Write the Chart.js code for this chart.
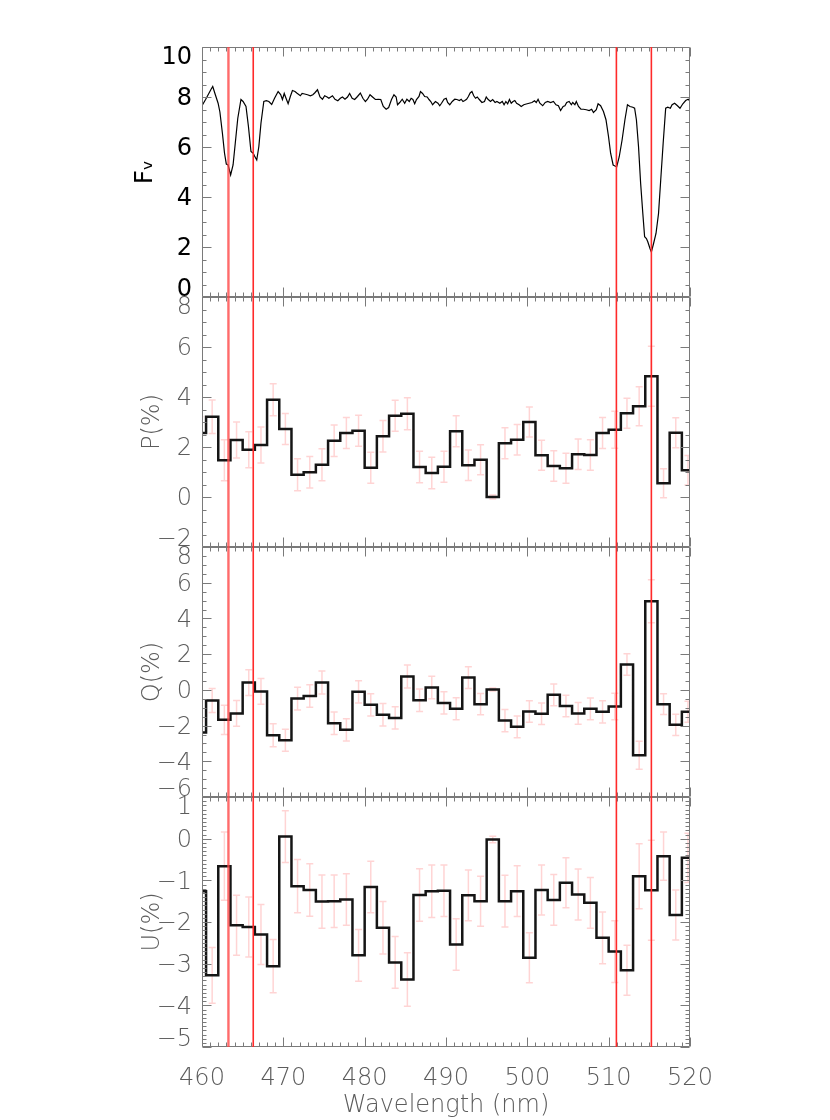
<!DOCTYPE html>
<html>
<head>
<meta charset="utf-8">
<script src="https://cdn.jsdelivr.net/npm/chart.js@4.4.1/dist/chart.umd.min.js"></script>
<style>
  html, body { margin: 0; padding: 0; background: #fff; }
  #wrap { width: 830px; height: 1120px; }
</style>
</head>
<body>
<div id="wrap"><canvas id="chart" width="830" height="1120"></canvas></div>
<script>
// Flux spectrum (top panel)
const fluxWave = [
  460.00, 460.44, 461.10, 461.32, 461.63, 461.98, 462.20, 462.51, 462.77, 462.99,
  463.21, 463.52, 463.82, 464.09, 464.40, 464.79, 465.05, 465.41, 465.71, 466.02,
  466.29, 466.46, 466.73, 466.99, 467.25, 467.60, 467.91, 468.22, 468.57, 468.92,
  469.36, 469.67, 469.89, 470.11, 470.33, 470.59, 470.86, 471.12, 471.43, 471.65,
  472.09, 472.31, 472.62, 472.97, 473.32, 473.63, 473.85, 474.20, 474.51, 474.81,
  475.08, 475.38, 475.60, 476.04, 476.35, 476.70, 477.01, 477.27, 477.58, 477.89,
  478.15, 478.46, 478.77, 479.12, 479.47, 479.78, 480.09, 480.35, 480.66, 480.97,
  481.32, 481.67, 481.98, 482.29, 482.64, 482.95, 483.30, 483.60, 483.87, 484.04,
  484.31, 484.62, 484.92, 485.19, 485.49, 485.71, 485.93, 486.15, 486.37, 486.68,
  486.86, 487.12, 487.38, 487.69, 487.91, 488.13, 488.35, 488.70, 489.01, 489.23,
  489.45, 489.76, 490.02, 490.20, 490.46, 490.77, 491.08, 491.34, 491.65, 491.87,
  492.09, 492.31, 492.53, 492.75, 492.97, 493.19, 493.41, 493.63, 493.85, 494.07,
  494.42, 494.73, 494.95, 495.16, 495.47, 495.74, 496.04, 496.26, 496.62, 496.92,
  497.14, 497.36, 497.58, 497.80, 498.02, 498.24, 498.46, 498.68, 498.99, 499.25,
  499.56, 499.87, 500.22, 500.57, 500.88, 501.10, 501.32, 501.54, 501.89, 502.20,
  502.51, 502.86, 503.21, 503.52, 503.82, 504.09, 504.40, 504.62, 504.84, 505.14,
  505.41, 505.58, 505.85, 506.02, 506.29, 506.59, 506.90, 507.25, 507.60, 507.91,
  508.13, 508.48, 508.70, 509.01, 509.36, 509.67, 509.98, 510.24, 510.55, 510.77,
  510.99, 511.30, 511.65, 512.00, 512.31, 512.62, 512.97, 513.19, 513.41, 513.67,
  513.93, 514.20, 514.42, 514.64, 514.81, 515.08, 515.25, 515.52, 515.82, 516.13,
  516.40, 516.70, 517.01, 517.27, 517.58, 517.80, 518.11, 518.46, 518.77, 519.12,
  519.47, 519.78, 520.00
];
const fluxValue = [
  7.65, 7.90, 8.30, 8.42, 8.10, 7.75, 7.40, 6.55, 5.75, 5.32,
  5.28, 4.88, 5.28, 6.15, 7.15, 7.90, 7.82, 7.62, 6.82, 5.82,
  5.75, 5.64, 5.48, 6.02, 6.95, 7.82, 7.85, 7.82, 7.70, 7.95,
  8.22, 8.10, 7.90, 8.14, 7.95, 7.73, 8.02, 8.26, 8.22, 8.16,
  8.05, 8.14, 8.12, 8.09, 8.05, 8.09, 8.16, 8.29, 8.00, 7.91,
  8.05, 8.00, 7.95, 8.05, 7.91, 7.85, 7.95, 8.00, 7.91, 8.00,
  8.14, 7.95, 7.90, 8.02, 8.16, 7.95, 7.82, 7.91, 8.09, 8.00,
  7.90, 7.91, 7.90, 7.62, 7.51, 7.58, 7.90, 8.09, 8.00, 7.69,
  7.78, 7.91, 7.75, 7.91, 7.82, 7.95, 7.90, 7.73, 7.90, 8.02,
  8.22, 8.14, 8.02, 8.00, 7.90, 7.82, 7.69, 7.82, 7.75, 7.65,
  7.75, 7.91, 7.95, 7.78, 7.69, 7.82, 7.91, 7.90, 7.86, 7.91,
  7.82, 7.86, 7.91, 8.02, 8.16, 8.22, 8.05, 7.95, 8.00, 7.91,
  7.78, 7.82, 8.00, 7.91, 7.82, 7.90, 7.78, 7.82, 7.75, 7.82,
  7.69, 7.82, 7.73, 7.90, 7.75, 7.82, 7.86, 7.75, 7.69, 7.62,
  7.69, 7.72, 7.75, 7.78, 7.85, 7.78, 7.91, 7.75, 7.65, 7.78,
  7.82, 7.78, 7.82, 7.69, 7.65, 7.46, 7.62, 7.65, 7.78, 7.82,
  7.69, 7.78, 7.69, 7.82, 7.62, 7.51, 7.51, 7.49, 7.46, 7.51,
  7.38, 7.49, 7.73, 7.65, 7.42, 7.09, 6.42, 5.75, 5.28, 5.24,
  5.21, 5.61, 6.28, 7.09, 7.69, 7.62, 7.59, 7.55, 7.09, 6.02,
  4.55, 3.34, 2.41, 2.34, 2.21, 1.94, 1.80, 2.14, 2.54, 3.34,
  4.68, 6.15, 7.55, 7.59, 7.55, 7.69, 7.75, 7.65, 7.55, 7.73,
  7.86, 7.91, 7.82
];

// Binned polarimetry (1.5 nm bins)
const binCenters = [
  459.75, 461.25, 462.75, 464.25, 465.75, 467.25, 468.75, 470.25, 471.75, 473.25,
  474.75, 476.25, 477.75, 479.25, 480.75, 482.25, 483.75, 485.25, 486.75, 488.25,
  489.75, 491.25, 492.75, 494.25, 495.75, 497.25, 498.75, 500.25, 501.75, 503.25,
  504.75, 506.25, 507.75, 509.25, 510.75, 512.25, 513.75, 515.25, 516.75, 518.25,
  519.75
];
const binWidth = 1.5;
const pValues = [
  2.56, 3.21, 1.47, 2.28, 1.89, 2.08, 3.89, 2.72, 0.89, 0.99,
  1.29, 2.25, 2.56, 2.65, 1.17, 2.43, 3.25, 3.33, 1.20, 0.96,
  1.21, 2.63, 1.27, 1.49, 0.00, 2.15, 2.29, 3.00, 1.67, 1.24,
  1.15, 1.71, 1.68, 2.56, 2.69, 3.35, 3.63, 4.83, 0.55, 2.57,
  1.07
];
const qValues = [
  -2.39, -0.60, -1.68, -1.32, 0.41, -0.09, -2.54, -2.82, -0.49, -0.35,
  0.41, -1.87, -2.24, -0.11, -0.84, -1.40, -1.57, 0.75, -0.58, 0.13,
  -0.73, -1.06, 0.69, -0.80, 0.02, -1.72, -2.07, -1.21, -1.34, -0.28,
  -0.90, -1.32, -1.06, -1.23, -0.93, 1.42, -3.66, 4.96, -0.80, -1.96,
  -1.23
];
const uValues = [
  -1.26, -3.28, -0.66, -2.08, -2.12, -2.30, -3.06, 0.05, -1.14, -1.23,
  -1.51, -1.50, -1.46, -2.80, -1.16, -2.14, -2.97, -3.38, -1.35, -1.26,
  -1.25, -2.54, -1.36, -1.50, -0.02, -1.50, -1.26, -2.86, -1.23, -1.47,
  -1.06, -1.34, -1.54, -2.38, -2.71, -3.16, -0.90, -1.24, -0.42, -1.83,
  -0.46
];
const sigma = [
  0.65, 0.67, 0.82, 0.72, 0.72, 0.72, 0.64, 0.62, 0.64, 0.63,
  0.64, 0.63, 0.62, 0.62, 0.62, 0.63, 0.62, 0.64, 0.63, 0.63,
  0.62, 0.62, 0.61, 0.60, 0.08, 0.62, 0.61, 0.60, 0.60, 0.61,
  0.60, 0.61, 0.61, 0.62, 0.74, 0.60, 0.78, 1.20, 0.58, 0.60,
  0.59
];

// Line positions (nm)
const markerLines = [463.25, 466.3, 510.95, 515.25];

const xTickLabels = [460, 470, 480, 490, 500, 510, 520];

// Styling
const FONT = "'DejaVu Sans', 'Open Sans', sans-serif";
const axisColor = '#7a7a7a';
const labelGray = '#5c5c5c';

const panels = [
  { id: 'f', title: 'F\u1d65', min: 0, max: 10, step: 2, minor: 0.5, color: '#000000', weight: '400', titlePad: 3 },
  { id: 'p', title: 'P(%)', min: -2, max: 8, step: 2, minor: 0.5, color: labelGray, weight: '200', titlePad: 10 },
  { id: 'q', title: 'Q(%)', min: -6, max: 8, step: 2, minor: 0.5, color: labelGray, weight: '200', titlePad: 10 },
  { id: 'u', title: 'U(%)', min: -5, max: 1, step: 1, minor: 0.1, color: labelGray, weight: '200', titlePad: 10 }
];

function fmt(v) {
  return v < 0 ? '\u2212' + Math.abs(v) : String(v);
}

// points at left bin edges, each value holding until the next edge
function stepPoints(values) {
  const pts = values.map((v, i) => ({ x: binCenters[i] - binWidth / 2, y: v }));
  const last = values.length - 1;
  pts.push({ x: binCenters[last] + binWidth / 2, y: values[last] });
  return pts;
}

function panelScale(p, order) {
  return {
    type: 'linear',
    position: 'left',
    stack: 'panels',
    stackWeight: 1,
    weight: order,
    min: p.min,
    max: p.max,
    grid: { display: false, drawTicks: false },
    border: { display: false },
    ticks: { display: false, stepSize: p.step },
    title: {
      display: true,
      text: p.title,
      color: p.color,
      font: { family: FONT, size: 24, weight: p.weight },
      padding: { top: p.titlePad, bottom: 0 }
    },
    afterFit(scale) { scale.width = 74; }
  };
}

// error bars behind the histograms
const errorBars = {
  id: 'errorBars',
  beforeDatasetsDraw(chart) {
    const ctx = chart.ctx, xs = chart.scales.x, area = chart.chartArea;
    ctx.save();
    ctx.beginPath();
    ctx.rect(area.left, area.top, area.right - area.left, area.bottom - area.top);
    ctx.clip();
    ctx.strokeStyle = 'rgba(255, 160, 160, 0.45)';
    ctx.lineWidth = 1.5;
    const cap = 3.5;
    [['p', pValues], ['q', qValues], ['u', uValues]].forEach(([id, vals]) => {
      const ys = chart.scales[id];
      vals.forEach((v, i) => {
        const px = xs.getPixelForValue(binCenters[i]);
        const y0 = ys.getPixelForValue(v - sigma[i]);
        const y1 = ys.getPixelForValue(v + sigma[i]);
        ctx.beginPath();
        ctx.moveTo(px, y0); ctx.lineTo(px, y1);
        ctx.moveTo(px - cap, y0); ctx.lineTo(px + cap, y0);
        ctx.moveTo(px - cap, y1); ctx.lineTo(px + cap, y1);
        ctx.stroke();
      });
    });
    ctx.restore();
  }
};

// IDL-style boxes with inward ticks on every side, plus y tick labels
const panelFrame = {
  id: 'panelFrame',
  afterDraw(chart) {
    const ctx = chart.ctx, xs = chart.scales.x, area = chart.chartArea;
    const majorLen = 9, minorLen = 4;
    ctx.save();
    ctx.strokeStyle = axisColor;
    ctx.lineWidth = 1;
    const left = Math.round(area.left) + 0.5, right = Math.round(area.right) - 0.5;
    panels.forEach(p => {
      const ys = chart.scales[p.id];
      const top = Math.round(ys.top) + 0.5, bottom = Math.round(ys.bottom) - 0.5;
      ctx.beginPath();
      ctx.rect(left, top, right - left, bottom - top);
      const nx = Math.round(xs.max - xs.min);
      for (let k = 0; k <= nx; k++) {
        const v = xs.min + k;
        const len = (v % 10 === 0) ? majorLen : minorLen;
        const px = Math.round(xs.getPixelForValue(v)) + 0.5;
        ctx.moveTo(px, top); ctx.lineTo(px, top + len);
        ctx.moveTo(px, bottom); ctx.lineTo(px, bottom - len);
      }
      const ny = Math.round((p.max - p.min) / p.minor);
      for (let k = 0; k <= ny; k++) {
        const v = p.min + k * p.minor;
        const r = v / p.step;
        const len = Math.abs(r - Math.round(r)) < 1e-6 ? majorLen : minorLen;
        const py = Math.round(ys.getPixelForValue(v)) + 0.5;
        ctx.moveTo(left, py); ctx.lineTo(left + len, py);
        ctx.moveTo(right, py); ctx.lineTo(right - len, py);
      }
      ctx.stroke();

      // tick labels; the end labels are pulled inside the panel
      ctx.fillStyle = p.color;
      ctx.font = p.weight + ' 24px ' + FONT;
      ctx.textAlign = 'right';
      ctx.textBaseline = 'middle';
      const nl = Math.round((p.max - p.min) / p.step);
      for (let k = 0; k <= nl; k++) {
        const v = p.min + k * p.step;
        let py = ys.getPixelForValue(v) + 2;
        if (k === nl) py += 9;
        if (k === 0) py -= 9;
        ctx.fillText(fmt(v), area.left - 10, py);
      }
    });
    ctx.restore();
  }
};

// vertical red line markers over all panels
const markers = {
  id: 'markers',
  afterDraw(chart) {
    const ctx = chart.ctx, xs = chart.scales.x, area = chart.chartArea;
    ctx.save();
    markerLines.forEach((w, i) => {
      const px = xs.getPixelForValue(w);
      ctx.strokeStyle = i === 0 ? 'rgba(255, 70, 70, 0.8)' : '#ff2a2a';
      ctx.lineWidth = i === 0 ? 2.4 : 1.6;
      ctx.beginPath();
      ctx.moveTo(px, area.top);
      ctx.lineTo(px, area.bottom);
      ctx.stroke();
    });
    ctx.restore();
  }
};

const histStyle = {
  borderColor: '#151515',
  borderWidth: 2.5,
  stepped: 'before',
  pointRadius: 0,
  fill: false
};

const scales = {
  x: {
    type: 'linear',
    min: 460,
    max: 520,
    grid: { display: false, drawTicks: false },
    border: { display: false },
    afterBuildTicks(scale) { scale.ticks = xTickLabels.map(v => ({ value: v })); },
    ticks: {
      color: labelGray,
      padding: 17,
      font: { family: FONT, size: 24, weight: '200' }
    },
    title: {
      display: true,
      text: 'Wavelength (nm)',
      color: labelGray,
      font: { family: FONT, size: 24, weight: '200' },
      padding: { top: 0, bottom: 0 }
    },
    afterFit(scale) { scale.height = 73; }
  }
};
panels.forEach((p, i) => { scales[p.id] = panelScale(p, panels.length - i); });

new Chart(document.getElementById('chart'), {
  type: 'line',
  data: {
    datasets: [
      {
        data: fluxWave.map((w, i) => ({ x: w, y: fluxValue[i] })),
        yAxisID: 'f',
        borderColor: '#000000',
        borderWidth: 1.2,
        pointRadius: 0,
        tension: 0
      },
      Object.assign({ data: stepPoints(pValues), yAxisID: 'p' }, histStyle),
      Object.assign({ data: stepPoints(qValues), yAxisID: 'q' }, histStyle),
      Object.assign({ data: stepPoints(uValues), yAxisID: 'u' }, histStyle)
    ]
  },
  options: {
    responsive: false,
    animation: false,
    devicePixelRatio: 1,
    layout: { padding: { top: 47, right: 140, bottom: 0, left: 128 } },
    plugins: {
      legend: { display: false },
      tooltip: { enabled: false }
    },
    scales: scales
  },
  plugins: [errorBars, panelFrame, markers]
});
</script>
</body>
</html>
